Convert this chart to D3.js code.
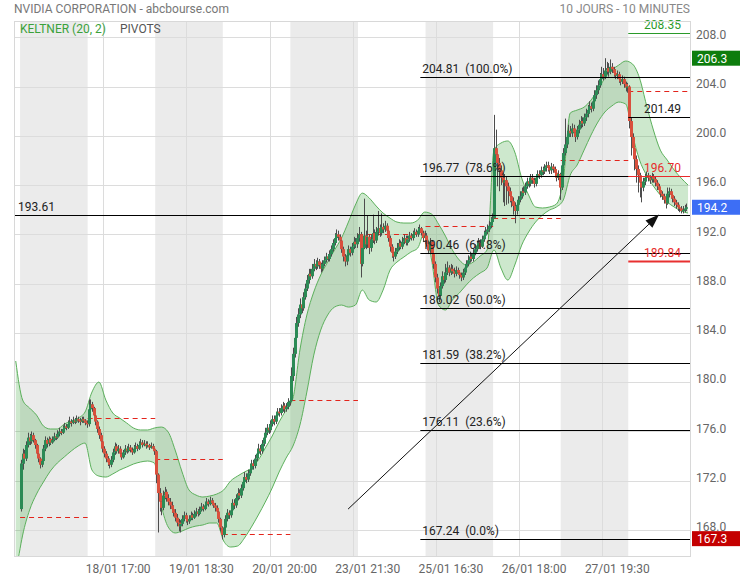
<!DOCTYPE html>
<html><head><meta charset="utf-8">
<script src="https://cdn.jsdelivr.net/npm/d3@7"></script>
<style>body{margin:0;background:#fff;}svg{display:block;font-family:Roboto,"Noto Sans",sans-serif;}</style>
</head><body>
<svg id="chart" width="740" height="580"></svg>
<script>
// ---------- DATA ----------
const title = "NVIDIA CORPORATION - abcbourse.com";
const period = "10 JOURS - 10 MINUTES";
const barsPerDay = 39;
const shadedDays = [0, 2, 4, 6, 8];
const firstOpen = 169.7;
const closes = [
173.4,174.2,173.8,174.9,175.5,175.2,175.7,175.3,174.9,174.2,173.8,173.3,173.6,174.6,175.3,175.0,175.4,175.1,175.3,175.6,175.5,175.8,176.0,175.9,176.2,176.4,176.3,176.6,176.8,176.7,176.9,176.8,177.0,176.9,176.8,177.0,176.9,176.7,176.6,
177.8,178.2,177.9,177.3,176.8,176.2,175.7,175.2,174.6,174.2,173.8,173.5,173.3,173.7,174.3,174.8,174.4,174.6,174.2,173.9,174.3,174.6,174.4,174.7,174.5,174.3,174.6,174.8,174.6,174.9,175.1,174.9,175.0,174.8,174.9,174.7,174.8,174.6,174.4,
172.5,171.0,170.3,169.8,170.8,171.1,170.6,170.3,170.0,169.7,169.4,169.0,168.6,168.3,168.5,168.9,169.2,168.9,168.7,168.9,169.2,169.0,169.3,169.5,169.3,169.6,169.9,169.7,170.0,170.3,170.1,170.4,170.2,170.0,169.8,169.5,168.9,168.2,167.6,
168.2,168.9,169.4,169.2,169.6,170.2,170.0,170.6,171.0,170.8,171.4,171.9,172.3,172.1,172.6,172.9,173.4,173.2,173.8,174.2,174.6,174.4,175.0,175.5,175.9,176.3,176.1,176.6,177.0,176.8,177.3,177.6,177.5,177.9,178.1,177.8,178.0,178.4,178.5,
180.5,182.3,183.6,184.8,185.5,186.3,186.0,186.9,187.6,188.3,188.8,188.6,189.2,189.6,189.4,189.8,189.5,189.2,189.6,189.9,190.2,190.0,190.4,190.8,191.3,191.7,192.0,191.8,191.5,190.8,190.2,189.8,190.3,190.8,190.5,191.0,191.4,191.2,191.7,
192.0,189.6,190.9,191.9,191.2,191.8,190.9,191.6,192.1,191.5,192.2,192.5,192.1,192.6,192.4,192.7,192.3,191.7,191.0,190.5,190.2,190.6,190.9,191.3,191.0,191.4,191.7,191.3,191.6,191.9,191.7,192.0,192.2,192.0,192.3,192.5,192.1,191.7,191.9,
191.2,190.7,191.4,190.4,189.6,188.5,187.6,187.0,187.8,188.6,188.3,188.9,189.3,188.9,189.2,189.0,188.8,189.1,188.9,188.7,188.5,188.9,189.3,189.6,189.9,190.2,190.0,190.5,190.8,191.1,191.3,191.0,191.6,191.9,192.2,192.4,192.7,193.0,193.3,
199.0,198.5,197.8,197.2,196.6,196.2,196.4,195.9,195.5,195.1,194.7,194.3,193.9,194.4,194.8,195.1,195.5,195.4,195.9,196.3,196.1,196.6,196.4,196.1,196.6,196.9,196.8,197.2,197.1,197.4,197.6,197.4,197.2,197.5,197.3,197.0,196.6,196.9,195.8,
197.6,198.6,199.3,199.9,200.4,200.2,200.6,200.3,199.9,200.5,200.9,201.2,201.0,201.5,201.8,202.1,202.4,202.2,202.8,203.3,203.7,204.1,204.6,205.0,204.8,205.3,205.5,205.2,205.6,205.4,205.1,204.9,205.0,204.6,204.4,204.6,204.2,203.9,204.0,
201.2,199.9,199.0,198.1,197.3,196.8,196.2,195.8,196.3,196.6,196.8,196.6,196.4,196.7,196.5,196.2,195.9,195.6,195.3,195.1,194.8,194.5,195.3,195.5,195.2,194.9,194.6,194.4,194.2,194.1,193.9,194.0,194.1,194.2
];
const highs = [
173.7,174.6,174.5,175.2,175.9,175.8,176.0,175.9,175.4,175.0,174.4,173.9,173.9,174.9,175.6,175.5,175.6,175.5,175.6,175.9,175.8,176.1,176.3,176.2,176.5,176.7,176.6,176.9,177.2,177.0,177.2,177.1,177.3,177.2,177.1,177.2,177.2,177.0,176.9,
178.6,178.6,178.4,178.0,177.5,176.9,176.4,175.9,175.4,174.8,174.4,174.0,173.8,174.0,174.6,175.1,175.0,174.9,174.8,174.4,174.5,174.9,174.8,175.0,174.9,174.7,174.9,175.1,175.0,175.2,175.4,175.3,175.3,175.2,175.2,175.0,175.1,175.0,174.8,
174.5,172.6,171.4,170.6,171.2,171.5,171.3,170.9,170.6,170.3,170.0,169.7,169.3,168.9,168.8,169.2,169.5,169.4,169.1,169.2,169.5,169.4,169.6,169.8,169.7,169.9,170.2,170.1,170.3,170.6,170.5,170.7,170.6,170.4,170.2,170.0,169.6,169.0,168.3,
168.6,169.2,169.7,169.6,170.0,170.5,170.5,170.9,171.4,171.3,171.7,172.2,172.7,172.6,172.9,173.3,173.7,173.7,174.1,174.6,175.0,174.9,175.3,175.8,176.3,176.6,176.6,176.9,177.3,177.3,177.6,177.9,177.9,178.2,178.4,178.3,178.3,178.7,178.8,
181.2,182.8,184.1,185.3,186.0,186.8,186.7,187.3,188.0,188.7,189.2,189.2,189.6,190.0,189.9,190.1,190.0,189.7,189.9,190.2,190.5,190.4,190.7,191.1,191.6,192.1,192.4,192.3,192.0,191.7,191.0,190.4,190.6,191.1,191.0,191.3,191.8,191.7,192.1,
192.6,192.2,191.4,194.9,192.3,193.5,192.0,192.0,193.6,192.4,192.6,193.9,192.8,193.7,192.9,193.1,192.9,192.5,191.9,191.2,190.8,190.9,191.3,191.6,191.5,191.8,192.0,191.9,191.9,192.2,192.1,192.3,192.5,192.4,192.6,192.8,192.6,192.3,192.3,
192.1,191.5,191.7,191.5,190.6,189.8,188.8,187.8,188.1,189.0,188.9,189.6,189.8,189.5,189.6,189.5,189.3,189.4,189.3,189.1,188.9,189.2,189.6,189.9,190.3,190.6,190.5,190.8,191.2,191.5,191.7,191.6,191.9,192.3,192.6,192.8,193.1,193.4,193.7,
201.7,200.5,198.9,198.2,197.6,197.0,196.9,196.7,196.2,195.8,195.4,195.0,194.6,194.8,195.1,195.5,195.8,195.9,196.2,196.6,196.6,196.9,196.9,196.6,196.9,197.2,197.2,197.5,197.5,197.7,197.9,197.9,197.6,197.8,197.7,197.5,197.2,197.2,197.0,
197.9,199.0,201.4,200.4,200.9,200.8,201.0,200.9,200.5,200.8,201.3,201.6,201.5,201.8,202.2,202.5,202.8,202.7,203.1,203.7,204.1,204.5,205.1,205.6,205.5,206.3,206.0,205.9,206.2,205.9,205.6,205.4,205.3,205.2,204.9,204.9,204.8,204.4,204.3,
204.1,201.5,200.2,199.3,198.4,197.6,197.0,196.5,196.6,196.9,197.1,197.0,196.8,197.0,196.9,196.7,196.4,196.1,195.8,195.5,195.3,195.0,195.8,195.8,195.7,195.4,195.1,194.8,194.6,194.4,194.3,194.3,194.4,194.5
];
const lows = [
169.5,172.9,173.4,173.6,174.7,174.9,175.0,175.1,174.6,173.9,173.5,173.0,173.1,173.4,174.4,174.7,174.8,174.9,175.0,175.2,175.3,175.4,175.6,175.7,175.8,176.0,176.1,176.2,176.5,176.4,176.6,176.6,176.7,176.7,176.5,176.7,176.7,176.5,176.3,
176.4,177.5,177.6,177.0,176.5,175.9,175.4,174.9,174.3,173.9,173.5,173.2,173.0,173.1,173.5,174.1,174.2,174.2,174.0,173.7,173.8,174.1,174.2,174.3,174.3,174.1,174.2,174.5,174.4,174.5,174.8,174.7,174.8,174.6,174.7,174.5,174.6,174.4,174.1,
171.8,167.8,169.5,169.2,169.6,170.5,170.3,170.0,169.7,169.4,169.1,168.7,168.3,167.9,167.8,168.3,168.7,168.6,168.4,168.5,168.8,168.8,168.9,169.1,169.1,169.2,169.5,169.5,169.6,169.9,169.9,170.0,170.0,169.8,169.5,169.2,168.6,167.9,167.24,
167.4,168.0,168.7,168.9,169.0,169.4,169.7,169.8,170.4,170.5,170.6,171.2,171.7,171.8,171.9,172.4,172.7,172.9,173.0,173.6,174.0,174.1,174.2,174.8,175.3,175.7,175.8,175.9,176.4,176.5,176.6,177.1,177.2,177.3,177.6,177.5,177.6,177.8,178.1,
178.5,180.1,182.0,183.3,184.5,185.2,185.6,185.8,186.7,187.4,188.0,188.3,188.4,189.0,189.1,189.2,189.2,188.9,189.0,189.4,189.7,189.8,189.8,190.2,190.6,191.1,191.5,191.5,191.2,190.5,189.8,189.4,189.5,190.1,190.2,190.3,190.8,190.9,190.9,
191.4,188.5,189.4,190.8,190.8,190.9,190.4,190.6,191.3,191.2,191.3,191.9,191.8,191.9,192.1,192.2,192.0,191.4,190.6,190.1,189.8,190.0,190.4,190.7,190.8,190.8,191.2,191.1,191.1,191.4,191.5,191.5,191.8,191.8,191.8,192.0,191.9,191.4,191.5,
191.0,190.4,190.5,190.1,189.2,188.1,187.2,186.5,186.8,187.6,188.0,188.1,188.7,188.6,188.7,188.8,188.5,188.6,188.7,188.4,188.2,188.3,188.7,189.1,189.4,189.7,189.8,189.8,190.3,190.6,190.9,190.8,190.9,191.4,191.7,192.0,192.2,192.5,192.8,
193.3,197.8,195.9,195.5,196.0,194.6,194.3,194.4,194.5,194.6,194.2,193.6,192.9,193.6,194.1,194.6,194.9,195.1,195.2,195.7,195.8,195.9,196.1,195.8,195.9,196.3,196.5,196.6,196.8,196.9,197.1,197.1,196.9,196.9,197.0,196.7,196.3,196.4,194.8,
195.6,197.3,198.4,199.0,199.6,199.9,199.9,200.0,199.5,199.7,200.2,200.6,200.7,200.8,201.2,201.5,201.8,201.9,202.0,202.6,203.0,203.4,203.9,204.3,204.5,204.6,205.0,204.8,205.0,205.1,204.8,204.6,204.6,204.3,204.1,204.2,203.9,203.6,203.5,
200.6,198.4,198.6,197.2,196.2,195.4,195.0,194.6,195.5,196.0,196.3,196.3,196.1,196.2,196.2,195.9,195.6,195.3,195.0,194.8,194.5,194.1,194.4,195.0,194.9,194.6,194.3,194.1,193.9,193.8,193.7,193.7,193.8,193.9
];
// Keltner (20,2) channel, one value every 4 bars starting at bar -3
const bandFirstBar = -3, bandStep = 4;
const keltnerUpper = [181.72,178.55,177.90,177.33,176.44,176.20,176.20,176.60,176.85,177.09,177.58,179.20,180.01,178.55,177.50,177.09,176.69,176.28,176.12,176.12,176.28,176.36,175.95,174.49,172.71,171.25,170.84,170.68,170.76,170.92,171.25,171.98,172.38,172.71,173.03,173.68,174.66,175.63,176.77,177.74,178.71,182.61,185.45,187.32,188.70,189.75,190.73,191.70,193.00,194.38,195.35,194.95,194.30,193.73,193.32,193.00,192.92,192.92,193.16,193.81,193.65,192.84,191.86,190.73,189.92,189.51,189.75,190.24,190.73,198.84,199.41,199.58,198.68,196.57,195.19,194.22,194.14,194.22,194.46,196.41,201.85,202.09,202.33,202.90,203.71,204.69,205.34,205.74,206.07,205.82,204.69,202.50,200.47,198.84,198.03,197.22,196.57,196.00];
const keltnerLower = [164.35,167.59,169.62,170.92,171.90,172.79,173.44,173.93,174.41,174.82,175.06,172.87,172.38,172.30,172.55,172.87,173.11,173.36,173.52,173.60,173.44,170.03,168.24,167.76,167.92,168.16,168.32,168.41,168.57,168.57,167.11,166.62,166.70,167.35,168.24,169.22,170.27,171.41,172.71,173.84,174.82,176.52,179.20,182.20,184.23,185.45,186.10,186.26,186.10,186.26,187.48,186.67,186.51,187.48,189.10,189.75,190.16,190.56,190.89,192.19,189.92,186.26,185.86,186.67,187.24,187.89,188.45,188.86,189.27,190.73,189.27,188.29,189.51,191.13,192.19,193.00,193.57,193.97,194.22,194.79,196.81,197.63,198.84,200.06,201.12,201.93,202.42,202.74,202.58,200.06,198.03,196.81,195.92,195.19,194.62,194.22,193.89,193.73];
const dailyPivots = [169.06,177.09,173.76,167.68,178.55,192.03,192.68,193.32,198.03,203.63];
const fibStartBar = 231;
const fibLevels = [204.81,196.77,190.46,186.02,181.59,176.11,167.24];
const fibPercents = ["100.0%","78.6%","61.8%","50.0%","38.2%","23.6%","0.0%"];
const supportLevel = 193.61;
const lastDayLevels = [208.35,201.49,196.70,189.84];
const trendStart = [189.3,169.7], trendEnd = [368.8,193.61];
const yTicks = [168,172,176,180,184,188,192,196,200,204,208];
const xTickBars = [48,96,144,192,240,288,336];
const xTickLabels = ["18/01 17:00","19/01 18:30","20/01 20:00","23/01 21:30","25/01 16:30","26/01 18:00","27/01 19:30"];
const badgeValues = [206.3,194.2,167.3];
const indicatorNames = ["KELTNER (20, 2)","PIVOTS"];

// ---------- LAYOUT ----------
const P = {l:14,t:21,r:691,b:557};
const svg = d3.select("#chart");
const x = d3.scaleLinear().domain([-3.5,387.2]).range([P.l,P.r]);
const y = d3.scaleLinear().domain([165.81,209.32]).range([P.b,P.t]);
const fmt1 = d3.format(".1f"), fmt2 = d3.format(".2f");

svg.append("defs").append("clipPath").attr("id","clip")
  .append("rect").attr("x",P.l).attr("y",P.t).attr("width",P.r-P.l).attr("height",P.b-P.t);
const g = svg.append("g").attr("clip-path","url(#clip)");

// shaded days
g.selectAll("rect.day").data(shadedDays).join("rect")
  .attr("x",d=>x(d*barsPerDay)).attr("width",d=>x((d+1)*barsPerDay)-x(d*barsPerDay))
  .attr("y",P.t).attr("height",P.b-P.t).attr("fill","#ebebeb");

// grid
g.selectAll("line.hg").data(yTicks).join("line")
  .attr("x1",P.l).attr("x2",P.r).attr("y1",d=>Math.round(y(d))+0.5).attr("y2",d=>Math.round(y(d))+0.5)
  .attr("stroke","#dcdcdc");
g.selectAll("line.vg").data(xTickBars).join("line")
  .attr("x1",d=>Math.round(x(d))+0.5).attr("x2",d=>Math.round(x(d))+0.5).attr("y1",P.t).attr("y2",P.b)
  .attr("stroke","#dcdcdc");

// Keltner channel
const band = keltnerUpper.map((u,k)=>({b:bandFirstBar+k*bandStep+0.5,u,lo:keltnerLower[k]}));
g.append("path").datum(band)
  .attr("d",d3.area().x(d=>x(d.b)).y0(d=>y(d.lo)).y1(d=>y(d.u)).curve(d3.curveMonotoneX))
  .attr("fill","rgba(70,170,70,0.27)");
["u","lo"].forEach(key=>{
  g.append("path").datum(band)
    .attr("d",d3.line().x(d=>x(d.b)).y(d=>y(d[key])).curve(d3.curveMonotoneX))
    .attr("fill","none").attr("stroke","#5cb05c").attr("stroke-width",1);
});

// daily pivots (dashed)
g.selectAll("line.piv").data(dailyPivots).join("line")
  .attr("x1",(d,i)=>x(i*barsPerDay)).attr("x2",(d,i)=>x((i+1)*barsPerDay))
  .attr("y1",d=>Math.round(y(d))+0.5).attr("y2",d=>Math.round(y(d))+0.5)
  .attr("stroke","#e3241c").attr("stroke-dasharray","5,4");

// candles
const candles = closes.map((c,i)=>({i,o:i?closes[i-1]:firstOpen,c,h:highs[i],l:lows[i]}));
g.selectAll("line.wick").data(candles).join("line")
  .attr("x1",d=>Math.round(x(d.i+0.5))+0.5).attr("x2",d=>Math.round(x(d.i+0.5))+0.5)
  .attr("y1",d=>y(d.h)).attr("y2",d=>y(d.l)).attr("stroke","#4d4d4d").attr("stroke-width",1);
g.selectAll("rect.body").data(candles).join("rect")
  .attr("x",d=>Math.round(x(d.i+0.5))-1).attr("width",3)
  .attr("y",d=>y(Math.max(d.o,d.c))).attr("height",d=>Math.max(1.5,Math.abs(y(d.o)-y(d.c))))
  .attr("fill",d=>d.c>=d.o?"#2b8a55":"#d9503d");

// support line
g.append("line").attr("x1",P.l).attr("x2",P.r)
  .attr("y1",Math.round(y(supportLevel))+0.5).attr("y2",Math.round(y(supportLevel))+0.5).attr("stroke","#000");
svg.append("text").attr("x",P.l+4).attr("y",y(supportLevel)-4).attr("font-size",12).attr("fill","#222").text(fmt2(supportLevel));

// fibonacci
g.selectAll("line.fib").data(fibLevels).join("line")
  .attr("x1",x(fibStartBar)).attr("x2",P.r)
  .attr("y1",d=>Math.round(y(d))+0.5).attr("y2",d=>Math.round(y(d))+0.5).attr("stroke","#000");
svg.selectAll("text.fib").data(fibLevels).join("text")
  .attr("x",x(fibStartBar)+2).attr("y",d=>y(d)-4).attr("font-size",12).attr("fill","#222")
  .style("white-space","pre").text((d,i)=>fmt2(d)+"  ("+fibPercents[i]+")");

// last-day levels
const lvlColor = ["#2a9a2a","#000","#e82a2a","#e83030"], lvlWidth=[1,1,1,2];
g.selectAll("line.lvl").data(lastDayLevels).join("line")
  .attr("x1",x(9*barsPerDay)).attr("x2",P.r)
  .attr("y1",d=>Math.round(y(d))+0.5).attr("y2",d=>Math.round(y(d))+0.5)
  .attr("stroke",(d,i)=>lvlColor[i]).attr("stroke-width",(d,i)=>lvlWidth[i]);
svg.selectAll("text.lvl").data(lastDayLevels).join("text")
  .attr("x",P.r-10).attr("y",d=>y(d)-4).attr("text-anchor","end").attr("font-size",12)
  .attr("fill",(d,i)=>i===1?"#222":lvlColor[i]).text(d=>fmt2(d));

// trend arrow
const x0=x(trendStart[0]), y0=y(trendStart[1]), x1=x(trendEnd[0]), y1=y(trendEnd[1]);
const ang=Math.atan2(y1-y0,x1-x0), L=14, Wd=5;
const bx=x1-L*Math.cos(ang), by=y1-L*Math.sin(ang);
g.append("line").attr("x1",x0).attr("y1",y0).attr("x2",bx).attr("y2",by).attr("stroke","#111");
g.append("path").attr("d",`M${x1},${y1}L${bx+Wd*Math.sin(ang)},${by-Wd*Math.cos(ang)}L${bx-Wd*Math.sin(ang)},${by+Wd*Math.cos(ang)}Z`).attr("fill","#111");

// plot border
svg.append("rect").attr("x",P.l+0.5).attr("y",P.t+0.5).attr("width",P.r-P.l-1).attr("height",P.b-P.t-1)
  .attr("fill","none").attr("stroke","#d8d8d8");

// right axis
svg.selectAll("text.yt").data(yTicks).join("text")
  .attr("x",P.r+5).attr("y",d=>y(d)+1.3).attr("font-size",12).attr("fill","#666").text(d=>fmt1(d));

// badges
const badgeColor=["#0d7d0d","#3d6ef5","#c40000"];
badgeValues.forEach((v,i)=>{
  svg.append("rect").attr("x",P.r+1).attr("y",y(v)-7.5).attr("width",740-P.r-1).attr("height",15).attr("fill",badgeColor[i]);
  svg.append("text").attr("x",P.r+6).attr("y",y(v)+4.3).attr("font-size",12).attr("fill","#fff").text(fmt1(v));
});

// x axis labels
svg.selectAll("text.xt").data(xTickBars).join("text")
  .attr("x",d=>x(d)+15).attr("y",573).attr("text-anchor","middle").attr("font-size",12).attr("fill","#666")
  .text((d,i)=>xTickLabels[i]);

// header
svg.append("text").attr("x",14).attr("y",13).attr("font-size",12).attr("fill","#777").text(title);
svg.append("text").attr("x",690).attr("y",13).attr("text-anchor","end").attr("font-size",12).attr("fill","#888").text(period);
svg.append("text").attr("x",20).attr("y",33).attr("font-size",12).attr("fill","#3aa13a").text(indicatorNames[0]);
svg.append("text").attr("x",120).attr("y",33).attr("font-size",12).attr("fill","#555").text(indicatorNames[1]);
</script>
</body></html>
